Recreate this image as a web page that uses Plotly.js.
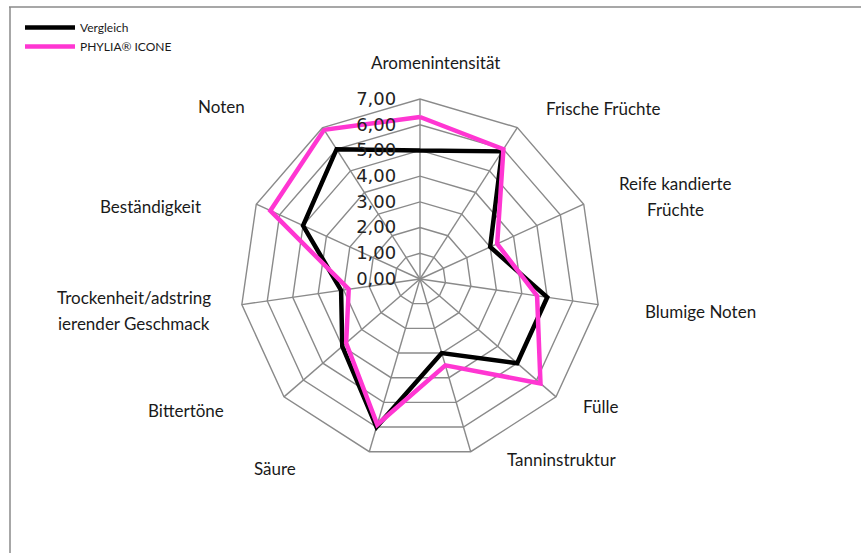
<!DOCTYPE html>
<html>
<head>
<meta charset="utf-8">
<script src="https://cdn.plot.ly/plotly-3.0.1.min.js"></script>
<style>
  html, body { margin: 0; padding: 0; background: #ffffff; }
  #chart { width: 861px; height: 553px; }
</style>
</head>
<body>
<div id="chart"></div>
<script>
// ---- data ----
const categories = [
  "Aromenintensität",
  "Frische Früchte",
  "Reife kandierte Früchte",
  "Blumige Noten",
  "Fülle",
  "Tanninstruktur",
  "Säure",
  "Bittertöne",
  "Trockenheit/adstringierender Geschmack",
  "Beständigkeit",
  "Noten"
];
const categoryLabelLines = [
  ["Aromenintensität"],
  ["Frische Früchte"],
  ["Reife kandierte", "Früchte"],
  ["Blumige Noten"],
  ["Fülle"],
  ["Tanninstruktur"],
  ["Säure"],
  ["Bittertöne"],
  ["Trockenheit/adstring", "ierender Geschmack"],
  ["Beständigkeit"],
  ["Noten"]
];
const seriesNames = ["Vergleich", "PHYLIA® ICONE"];
const vergleich = [5.0, 5.9, 3.0, 5.0, 5.0, 3.0, 6.0, 4.0, 3.1, 5.0, 6.0];
const phylia    = [6.3, 6.0, 3.3, 4.6, 6.2, 3.5, 5.9, 3.8, 2.8, 6.4, 6.9];
const radialTicks = [0, 1, 2, 3, 4, 5, 6, 7];

// ---- layout helpers (pixel -> paper) ----
const W = 861, H = 553;
const px = x => x / W;
const py = y => 1 - y / H;

// label anchor positions (px, centre of first line)
const labelPos = [
  [436, 62], [603, 108], [675, 183], [700, 311], [600, 406], [561, 459],
  [275, 468], [186, 410], [134, 297], [150, 206], [221, 107]
];
const lineGap = 26;

const closeLoop = a => a.concat([a[0]]);
const theta = closeLoop(categories);

const traces = [
  {
    type: "scatterpolar", mode: "lines", name: seriesNames[0],
    r: closeLoop(vergleich), theta: theta,
    line: { color: "#000000", width: 4.5 },
    hoverinfo: "skip"
  },
  {
    type: "scatterpolar", mode: "lines", name: seriesNames[1],
    r: closeLoop(phylia), theta: theta,
    line: { color: "#FF36D2", width: 4.5 },
    hoverinfo: "skip"
  }
];

const annotations = [];
categoryLabelLines.forEach((lines, i) => {
  lines.forEach((t, j) => {
    annotations.push({
      text: t, showarrow: false, xref: "paper", yref: "paper",
      x: px(labelPos[i][0]), y: py(labelPos[i][1] + j * lineGap),
      xanchor: "center", yanchor: "middle",
      font: { family: "Lato, 'Open Sans', sans-serif", size: 17, color: "#1a1a1a" }
    });
  });
});

const gridColor = "#8a8a8a";
const layout = {
  width: W, height: H,
  margin: { l: 0, r: 0, t: 0, b: 0, pad: 0 },
  paper_bgcolor: "#ffffff",
  separators: ",.",
  showlegend: true,
  legend: {
    x: px(20), y: py(13), xanchor: "left", yanchor: "top",
    bgcolor: "rgba(0,0,0,0)",
    font: { family: "Lato, sans-serif", size: 12, color: "#1a1a1a" },
    itemwidth: 50,
    tracegroupgap: 0
  },
  polar: {
    domain: { x: [px(240), px(600)], y: [py(459), py(99)] },
    bgcolor: "rgba(0,0,0,0)",
    gridshape: "linear",
    radialaxis: {
      range: [0, 7],
      tickvals: radialTicks,
      tickformat: ".2f",
      angle: 90,
      tickangle: 90,
      side: "counterclockwise",
      showline: false,
      ticks: "outside",
      ticklen: 17,
      tickcolor: "rgba(0,0,0,0)",
      gridcolor: gridColor,
      gridwidth: 1.4,
      tickfont: { family: "DejaVu Sans, sans-serif", size: 18, color: "#222222" }
    },
    angularaxis: {
      direction: "clockwise",
      rotation: 90,
      showticklabels: false,
      ticks: "",
      showline: true,
      linecolor: gridColor,
      linewidth: 1.4,
      gridcolor: gridColor,
      gridwidth: 1.4
    }
  },
  annotations: annotations,
  shapes: [
    { type: "line", xref: "paper", yref: "paper", x0: px(9), x1: 1, y0: py(7), y1: py(7),
      line: { color: "#8a8a8a", width: 1.5 } },
    { type: "line", xref: "paper", yref: "paper", x0: px(10), x1: px(10), y0: py(7), y1: 0,
      line: { color: "#8a8a8a", width: 1.5 } }
  ]
};

Plotly.newPlot("chart", traces, layout, { staticPlot: true, displayModeBar: false });
</script>
</body>
</html>
